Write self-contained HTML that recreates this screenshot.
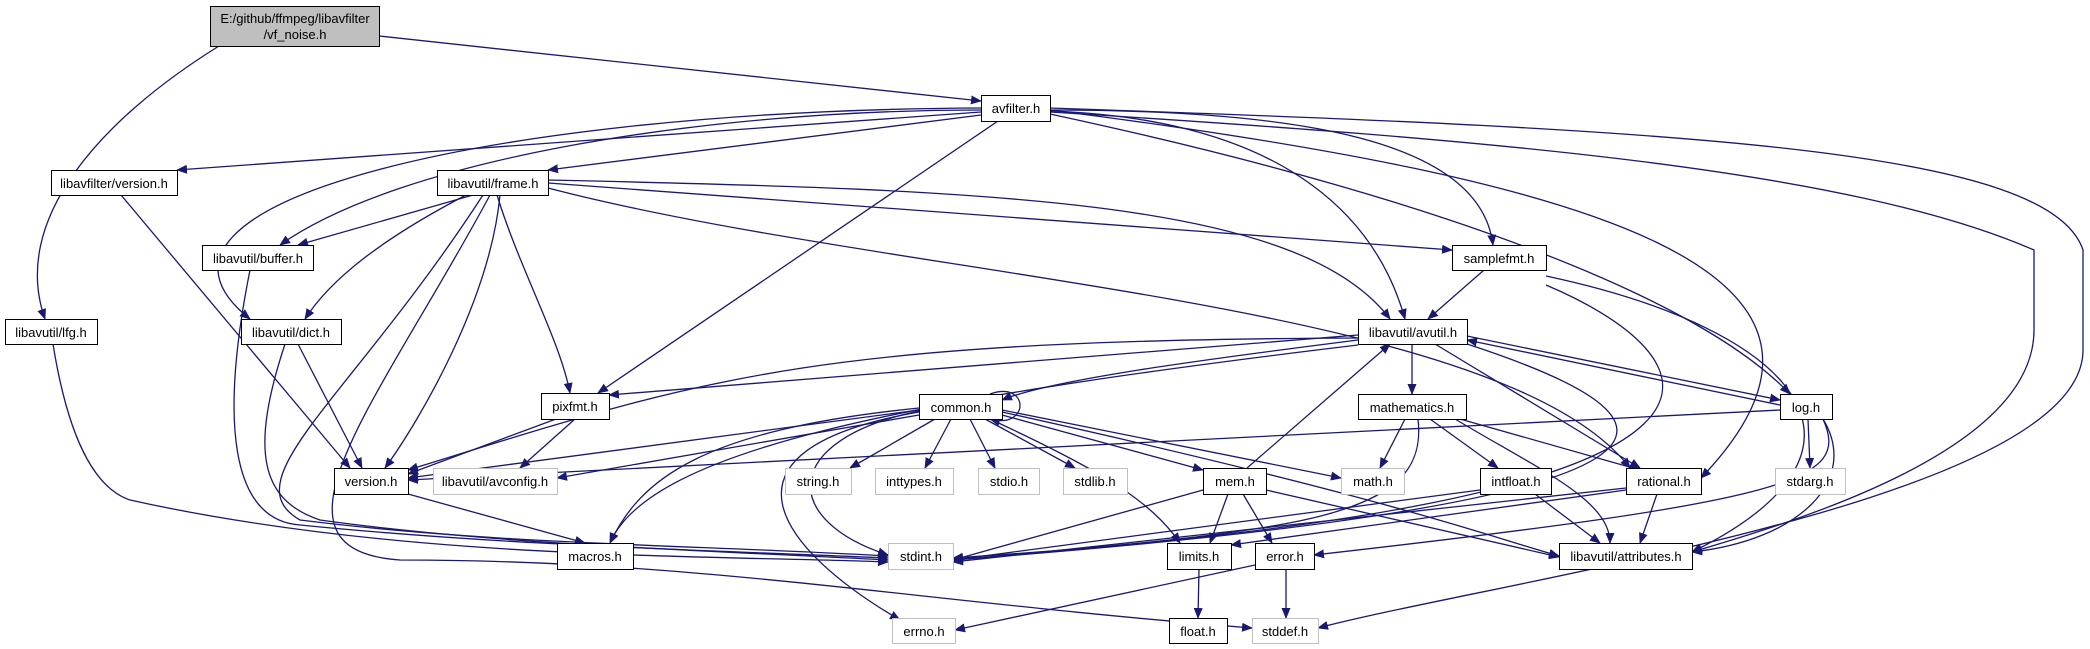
<!DOCTYPE html>
<html><head><meta charset="utf-8"><style>
html,body{margin:0;padding:0;background:#fff;}
svg{display:block}
text{font-family:"Liberation Sans",sans-serif;font-size:13px;fill:#000}
</style></head><body>
<svg width="2090" height="649" viewBox="0 0 2090 649" xmlns="http://www.w3.org/2000/svg">
<defs>
<marker id="a" markerUnits="userSpaceOnUse" markerWidth="11" markerHeight="10" refX="10" refY="4.5" orient="auto">
<path d="M0,0 L11,4.5 L0,9 z" fill="#191970"/></marker>
</defs>
<rect width="2090" height="649" fill="#fff"/>
<g fill="none" stroke="#191970" stroke-width="1.3" marker-end="url(#a)">
<path d="M379,36 L981,101"/>
<path d="M219,46 C100,120 10,220 45,319"/>
<path d="M981,112 L177,170"/>
<path d="M981,115 L548,170"/>
<path d="M981,110 C700,110 400,160 280,245"/>
<path d="M981,108 C500,110 100,200 250,319"/>
<path d="M998,121 L598,393"/>
<path d="M1050,111 C1300,120 1380,230 1405,319"/>
<path d="M1050,110 C1300,110 1480,140 1493,245"/>
<path d="M1050,114 C1450,200 1700,300 1790,394"/>
<path d="M1050,110 C1600,180 1900,270 1701,478"/>
<path d="M1050,112 C1500,140 1850,170 2034,250 L2034,330 C2034,450 1800,520 1692,552"/>
<path d="M1050,108 C1700,130 2050,150 2083,250 L2083,350 C2083,500 1500,580 1318,628"/>
<path d="M473,195 L298,245"/>
<path d="M466,195 C380,240 330,280 305,319"/>
<path d="M500,195 C490,300 420,420 385,468"/>
<path d="M497,195 C520,270 560,340 570,393"/>
<path d="M483,195 C350,400 230,480 300,520 C500,545 700,545 888,556"/>
<path d="M490,195 C380,400 250,550 400,560 C700,560 900,600 1252,628"/>
<path d="M548,180 C1000,190 1300,200 1390,319"/>
<path d="M548,183 L1452,250"/>
<path d="M548,188 C900,280 1500,300 1630,468"/>
<path d="M250,270 C220,420 230,520 300,525 C500,545 700,550 888,558"/>
<path d="M121,195 L350,468"/>
<path d="M298,344 L362,468"/>
<path d="M285,344 C250,450 260,500 320,520 C500,545 700,550 888,560"/>
<path d="M53,344 C70,450 100,490 130,500 C400,560 700,555 888,562"/>
<path d="M1484,270 L1428,319"/>
<path d="M1546,276 C1800,330 1900,450 1692,552"/>
<path d="M1546,285 C1700,350 1850,500 953,558"/>
<path d="M1358,335 L609,395"/>
<path d="M1358,338 C800,340 700,380 408,470"/>
<path d="M1358,340 C1200,360 1050,380 1002,400"/>
<path d="M1358,345 C900,400 650,450 610,543"/>
<path d="M1412,344 L1412,394"/>
<path d="M1435,344 L1640,468"/>
<path d="M1467,336 L1780,400"/>
<path d="M1780,405 L1467,340"/>
<path d="M1467,344 C1700,420 1750,500 953,560"/>
<path d="M919,410 L408,478"/>
<path d="M919,415 L557,478"/>
<path d="M935,419 L850,468"/>
<path d="M951,419 L925,468"/>
<path d="M970,419 L995,468"/>
<path d="M985,419 L1075,468"/>
<path d="M1002,415 L1203,470"/>
<path d="M1002,410 L1341,478"/>
<path d="M990,419 C1100,470 1150,500 1180,543"/>
<path d="M1002,412 C1400,500 1500,540 1559,556"/>
<path d="M919,411 C780,440 780,520 888,555"/>
<path d="M919,412 C700,450 780,550 900,620"/>
<path d="M919,408 C700,430 640,480 610,543"/>
<path d="M990,394 C1030,380 1030,430 990,419"/>
<path d="M1405,419 L1380,468"/>
<path d="M1418,419 C1430,520 1300,530 953,560"/>
<path d="M1430,419 L1498,468"/>
<path d="M1460,419 L1640,470"/>
<path d="M1455,419 C1540,470 1610,500 1610,543"/>
<path d="M1780,410 L408,480"/>
<path d="M1808,419 L1810,468"/>
<path d="M1823,419 C1860,480 1800,540 1692,552"/>
<path d="M1823,419 C1850,480 1800,500 1314,555"/>
<path d="M1247,468 L1390,344"/>
<path d="M1203,490 L953,560"/>
<path d="M1228,494 L1210,543"/>
<path d="M1243,494 L1272,543"/>
<path d="M1266,490 L1559,557"/>
<path d="M1480,490 L953,560"/>
<path d="M1535,494 L1600,543"/>
<path d="M1626,488 L953,562"/>
<path d="M1626,490 L1231,545"/>
<path d="M1657,494 L1640,543"/>
<path d="M1255,565 L955,630"/>
<path d="M1286,569 L1286,618"/>
<path d="M1199,569 L1198,618"/>
<path d="M408,494 L585,543"/>
<path d="M556,419 L408,474"/>
<path d="M575,419 L520,468"/>
</g>
<g stroke-width="1">
<rect x="210.5" y="6.5" width="169" height="40" fill="#bfbfbf" stroke="#000"/>
<g fill="#fff" stroke="#000">
<rect x="981.5" y="95.5" width="69" height="26"/>
<rect x="51.5" y="170.5" width="126" height="25"/>
<rect x="437.5" y="170.5" width="111" height="25"/>
<rect x="202.5" y="245.5" width="111" height="25"/>
<rect x="1452.5" y="245.5" width="94" height="25"/>
<rect x="5.5" y="319.5" width="92" height="25"/>
<rect x="241.5" y="319.5" width="100" height="25"/>
<rect x="1358.5" y="319.5" width="109" height="25"/>
<rect x="541.5" y="393.5" width="68" height="26"/>
<rect x="919.5" y="394.5" width="83" height="25"/>
<rect x="1358.5" y="394.5" width="108" height="25"/>
<rect x="1780.5" y="394.5" width="52" height="25"/>
<rect x="334.5" y="468.5" width="74" height="26"/>
<rect x="1203.5" y="468.5" width="63" height="26"/>
<rect x="1480.5" y="468.5" width="71" height="26"/>
<rect x="1626.5" y="468.5" width="75" height="26"/>
<rect x="557.5" y="543.5" width="76" height="26"/>
<rect x="1167.5" y="543.5" width="64" height="26"/>
<rect x="1255.5" y="543.5" width="59" height="26"/>
<rect x="1559.5" y="543.5" width="133" height="26"/>
<rect x="1169.5" y="618.5" width="58" height="25"/>
</g>
<g fill="#fff" stroke="#bfbfbf">
<rect x="433.5" y="468.5" width="124" height="26"/>
<rect x="785.5" y="468.5" width="66" height="26"/>
<rect x="875.5" y="468.5" width="78" height="26"/>
<rect x="978.5" y="468.5" width="61" height="26"/>
<rect x="1063.5" y="468.5" width="64" height="26"/>
<rect x="1341.5" y="468.5" width="63" height="26"/>
<rect x="1775.5" y="468.5" width="70" height="26"/>
<rect x="888.5" y="543.5" width="65" height="26"/>
<rect x="1252.5" y="618.5" width="66" height="25"/>
<rect x="892.5" y="618.5" width="63" height="25"/>
</g>
</g>
<g text-anchor="middle">
<text x="295" y="23">E:/github/ffmpeg/libavfilter</text>
<text x="295" y="39">/vf_noise.h</text>
<text x="1016" y="113">avfilter.h</text>
<text x="114" y="188">libavfilter/version.h</text>
<text x="493" y="188">libavutil/frame.h</text>
<text x="258" y="263">libavutil/buffer.h</text>
<text x="1499" y="263">samplefmt.h</text>
<text x="51" y="337">libavutil/lfg.h</text>
<text x="291" y="337">libavutil/dict.h</text>
<text x="1413" y="337">libavutil/avutil.h</text>
<text x="575" y="411">pixfmt.h</text>
<text x="961" y="412">common.h</text>
<text x="1412" y="412">mathematics.h</text>
<text x="1806" y="412">log.h</text>
<text x="371" y="486">version.h</text>
<text x="495" y="486">libavutil/avconfig.h</text>
<text x="818" y="486">string.h</text>
<text x="914" y="486">inttypes.h</text>
<text x="1009" y="486">stdio.h</text>
<text x="1095" y="486">stdlib.h</text>
<text x="1235" y="486">mem.h</text>
<text x="1373" y="486">math.h</text>
<text x="1516" y="486">intfloat.h</text>
<text x="1664" y="486">rational.h</text>
<text x="1810" y="486">stdarg.h</text>
<text x="595" y="561">macros.h</text>
<text x="921" y="561">stdint.h</text>
<text x="1199" y="561">limits.h</text>
<text x="1285" y="561">error.h</text>
<text x="1626" y="561">libavutil/attributes.h</text>
<text x="1198" y="636">float.h</text>
<text x="1285" y="636">stddef.h</text>
<text x="924" y="636">errno.h</text>
</g>
</svg>
</body></html>
